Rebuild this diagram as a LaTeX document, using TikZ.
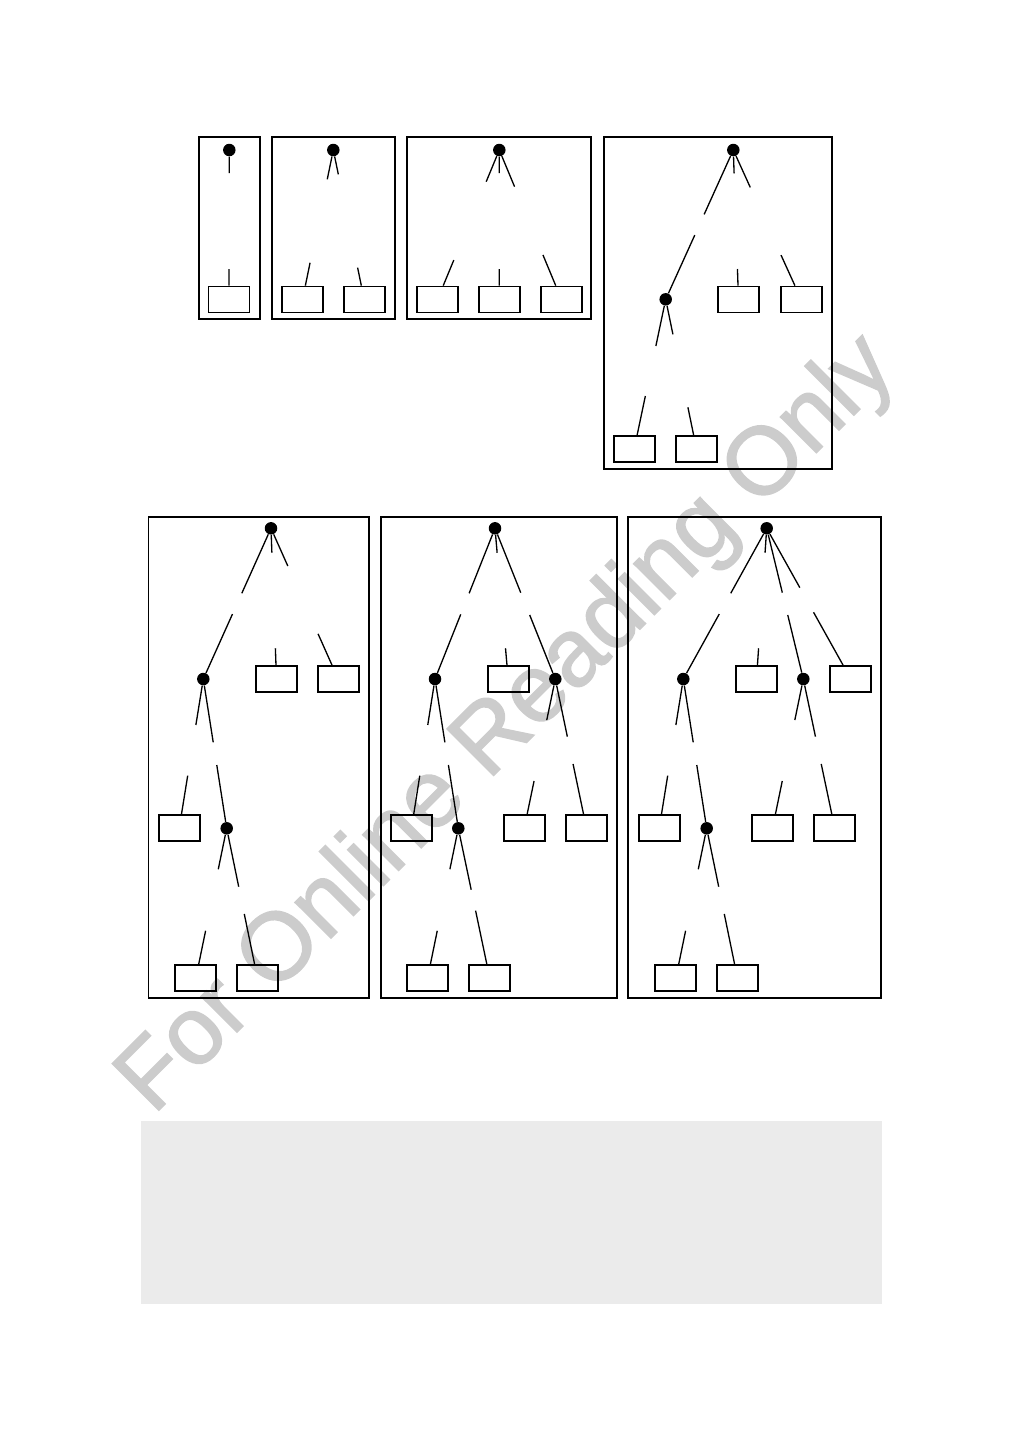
\documentclass[tikz,border=0pt]{standalone}
\usepackage{fontspec}
\usepackage{xcolor}
\usepackage{tikz}
\usetikzlibrary{positioning,calc}
\newfontfamily\marksans[FakeBold=1.6]{Liberation Sans}
\definecolor{markgray}{RGB}{204,204,204}
\definecolor{panelgray}{RGB}{235,235,235}
\tikzset{
  tree-dot/.style={circle, fill=black, inner sep=0pt, minimum size=0.25cm},
  leaf-box/.style={draw=black, line width=1pt, rectangle, inner sep=0pt,
    minimum width=0.82cm, minimum height=0.52cm},
  gap-edge/.style={draw=black, line width=0.75pt},
  panel-frame/.style={draw=black, line width=1.1pt},
  note-panel/.style={fill=panelgray, draw=none},
  watermark/.style={font=\marksans\fontsize{54.5}{60}\selectfont, text=markgray,
    inner sep=0pt}
}

\begin{document}
\begin{tikzpicture}[x=0.02cm, y=-0.02cm]
\useasboundingbox (0,0) rectangle (1009,1441);

% Watermark behind everything
\node[watermark, rotate=45, anchor=base west] (mark) at (153,1116) {For Online Reading Only};

% Panel 1: one leaf
\draw[panel-frame] (199,137) rectangle (260,319);
\node[tree-dot] (root1) at (229.3,150) {};
\node[leaf-box] (leaf1) at (229,299.5) {};
\draw[gap-edge] (root1) -- ($(root1)!.154!(leaf1)$) ($(root1)!.796!(leaf1)$) -- (leaf1);

% Panel 2: two leaves
\draw[panel-frame] (272,137) rectangle (395,319);
\node[tree-dot] (root2) at (333.3,150) {};
\node[leaf-box] (leaf2a) at (302.5,299.5) {};
\node[leaf-box] (leaf2b) at (364.2,299.5) {};
\draw[gap-edge] (root2) -- ($(root2)!.196!(leaf2a)$) ($(root2)!.754!(leaf2a)$) -- (leaf2a);
\draw[gap-edge] (root2) -- ($(root2)!.163!(leaf2b)$) ($(root2)!.787!(leaf2b)$) -- (leaf2b);

% Panel 3: three leaves
\draw[panel-frame] (407,137) rectangle (591,319);
\node[tree-dot] (root3) at (499.3,150) {};
\node[leaf-box] (leaf3a) at (437.5,299.5) {};
\node[leaf-box] (leaf3b) at (499.2,299.5) {};
\node[leaf-box] (leaf3c) at (561.5,299.5) {};
\draw[gap-edge] (root3) -- ($(root3)!.212!(leaf3a)$) ($(root3)!.736!(leaf3a)$) -- (leaf3a);
\draw[gap-edge] (root3) -- ($(root3)!.154!(leaf3b)$) ($(root3)!.796!(leaf3b)$) -- (leaf3b);
\draw[gap-edge] (root3) -- ($(root3)!.245!(leaf3c)$) ($(root3)!.702!(leaf3c)$) -- (leaf3c);

% Panel 4
\draw[panel-frame] (604,137) rectangle (832,469);
\node[tree-dot] (root4) at (733.3,150) {};
\node[tree-dot] (node4) at (665.7,299.3) {};
\node[leaf-box] (leaf4a) at (738.5,299.5) {};
\node[leaf-box] (leaf4b) at (801.2,299.5) {};
\node[leaf-box] (leaf4c) at (634.2,449) {};
\node[leaf-box] (leaf4d) at (696.5,449) {};
\draw[gap-edge] (root4) -- ($(root4)!.431!(node4)$) ($(root4)!.570!(node4)$) -- (node4);
\draw[gap-edge] (root4) -- ($(root4)!.156!(leaf4a)$) ($(root4)!.796!(leaf4a)$) -- (leaf4a);
\draw[gap-edge] (root4) -- ($(root4)!.250!(leaf4b)$) ($(root4)!.703!(leaf4b)$) -- (leaf4b);
\draw[gap-edge] (node4) -- ($(node4)!.312!(leaf4c)$) ($(node4)!.646!(leaf4c)$) -- (leaf4c);
\draw[gap-edge] (node4) -- ($(node4)!.234!(leaf4d)$) ($(node4)!.721!(leaf4d)$) -- (leaf4d);

% Panel 5
\draw[panel-frame] (148.5,517) rectangle (369.3,998);
\node[tree-dot] (root5) at (271,528.3) {};
\node[tree-dot] (node5a) at (203.3,679) {};
\node[tree-dot] (node5b) at (226.7,828.3) {};
\node[leaf-box] (leaf5a) at (276.5,679) {};
\node[leaf-box] (leaf5b) at (338.2,679) {};
\node[leaf-box] (leaf5c) at (179.2,828.3) {};
\node[leaf-box] (leaf5d) at (195.8,978.3) {};
\node[leaf-box] (leaf5e) at (257.5,978.3) {};
\draw[gap-edge] (root5) -- ($(root5)!.431!(node5a)$) ($(root5)!.569!(node5a)$) -- (node5a);
\draw[gap-edge] (root5) -- ($(root5)!.162!(leaf5a)$) ($(root5)!.796!(leaf5a)$) -- (leaf5a);
\draw[gap-edge] (root5) -- ($(root5)!.250!(leaf5b)$) ($(root5)!.700!(leaf5b)$) -- (leaf5b);
\draw[gap-edge] (node5a) -- ($(node5a)!.308!(leaf5c)$) ($(node5a)!.647!(leaf5c)$) -- (leaf5c);
\draw[gap-edge] (node5a) -- ($(node5a)!.424!(node5b)$) ($(node5a)!.576!(node5b)$) -- (node5b);
\draw[gap-edge] (node5b) -- ($(node5b)!.273!(leaf5d)$) ($(node5b)!.683!(leaf5d)$) -- (leaf5d);
\draw[gap-edge] (node5b) -- ($(node5b)!.389!(leaf5e)$) ($(node5b)!.571!(leaf5e)$) -- (leaf5e);

% Panel 6
\draw[panel-frame] (381,517) rectangle (617.3,998);
\node[tree-dot] (root6) at (495,528.3) {};
\node[tree-dot] (node6a) at (435,679) {};
\node[tree-dot] (node6c) at (555.3,679) {};
\node[tree-dot] (node6b) at (458.3,828.3) {};
\node[leaf-box] (leaf6a) at (508.2,679) {};
\node[leaf-box] (leaf6b) at (411.5,828.3) {};
\node[leaf-box] (leaf6c) at (524.2,828.3) {};
\node[leaf-box] (leaf6d) at (586.5,828.3) {};
\node[leaf-box] (leaf6e) at (427.5,978.3) {};
\node[leaf-box] (leaf6f) at (489.8,978.3) {};
\draw[gap-edge] (root6) -- ($(root6)!.431!(node6a)$) ($(root6)!.571!(node6a)$) -- (node6a);
\draw[gap-edge] (root6) -- ($(root6)!.162!(leaf6a)$) ($(root6)!.796!(leaf6a)$) -- (leaf6a);
\draw[gap-edge] (root6) -- ($(root6)!.427!(node6c)$) ($(root6)!.575!(node6c)$) -- (node6c);
\draw[gap-edge] (node6a) -- ($(node6a)!.308!(leaf6b)$) ($(node6a)!.647!(leaf6b)$) -- (leaf6b);
\draw[gap-edge] (node6a) -- ($(node6a)!.424!(node6b)$) ($(node6a)!.576!(node6b)$) -- (node6b);
\draw[gap-edge] (node6c) -- ($(node6c)!.275!(leaf6c)$) ($(node6c)!.683!(leaf6c)$) -- (leaf6c);
\draw[gap-edge] (node6c) -- ($(node6c)!.386!(leaf6d)$) ($(node6c)!.569!(leaf6d)$) -- (leaf6d);
\draw[gap-edge] (node6b) -- ($(node6b)!.273!(leaf6e)$) ($(node6b)!.683!(leaf6e)$) -- (leaf6e);
\draw[gap-edge] (node6b) -- ($(node6b)!.409!(leaf6f)$) ($(node6b)!.549!(leaf6f)$) -- (leaf6f);

% Panel 7
\draw[panel-frame] (628.3,517) rectangle (881,998);
\node[tree-dot] (root7) at (766.7,528.3) {};
\node[tree-dot] (node7a) at (683.3,679) {};
\node[tree-dot] (node7c) at (803.3,679) {};
\node[tree-dot] (node7b) at (706.7,828.3) {};
\node[leaf-box] (leaf7a) at (756.5,679) {};
\node[leaf-box] (leaf7b) at (850.8,679) {};
\node[leaf-box] (leaf7c) at (659.2,828.3) {};
\node[leaf-box] (leaf7d) at (772.5,828.3) {};
\node[leaf-box] (leaf7e) at (834.8,828.3) {};
\node[leaf-box] (leaf7f) at (675.8,978.3) {};
\node[leaf-box] (leaf7g) at (737.5,978.3) {};
\draw[gap-edge] (root7) -- ($(root7)!.431!(node7a)$) ($(root7)!.569!(node7a)$) -- (node7a);
\draw[gap-edge] (root7) -- ($(root7)!.162!(leaf7a)$) ($(root7)!.796!(leaf7a)$) -- (leaf7a);
\draw[gap-edge] (root7) -- ($(root7)!.427!(node7c)$) ($(root7)!.575!(node7c)$) -- (node7c);
\draw[gap-edge] (root7) -- ($(root7)!.394!(leaf7b)$) ($(root7)!.557!(leaf7b)$) -- (leaf7b);
\draw[gap-edge] (node7a) -- ($(node7a)!.308!(leaf7c)$) ($(node7a)!.647!(leaf7c)$) -- (leaf7c);
\draw[gap-edge] (node7a) -- ($(node7a)!.424!(node7b)$) ($(node7a)!.576!(node7b)$) -- (node7b);
\draw[gap-edge] (node7c) -- ($(node7c)!.275!(leaf7d)$) ($(node7c)!.683!(leaf7d)$) -- (leaf7d);
\draw[gap-edge] (node7c) -- ($(node7c)!.386!(leaf7e)$) ($(node7c)!.569!(leaf7e)$) -- (leaf7e);
\draw[gap-edge] (node7b) -- ($(node7b)!.273!(leaf7f)$) ($(node7b)!.683!(leaf7f)$) -- (leaf7f);
\draw[gap-edge] (node7b) -- ($(node7b)!.389!(leaf7g)$) ($(node7b)!.571!(leaf7g)$) -- (leaf7g);

% Grey panel below the trees
\fill[note-panel] (141,1121) rectangle (882,1304);
\end{tikzpicture}
\end{document}
